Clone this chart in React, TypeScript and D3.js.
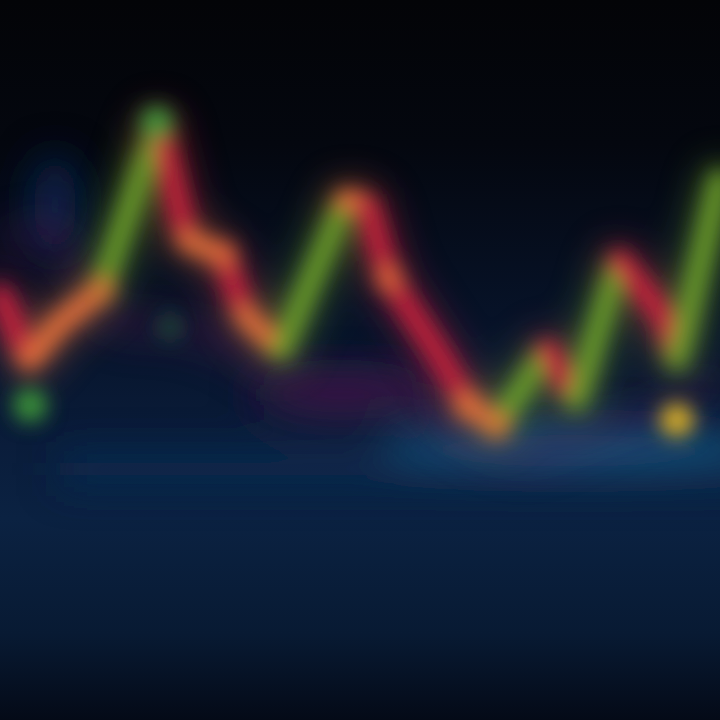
import React, { useEffect } from "react";
import * as d3 from "d3";

// Main price series (day, value)
const days = [0, 4, 8, 14, 22, 26, 31, 34, 39, 48, 51, 54, 61, 65, 69, 76, 80, 86, 92, 94, 100];
const prices = [48.6, 30.5, 40.3, 50, 95.8, 63.9, 59.7, 43.1, 33.3, 75, 73.6, 53.3, 31.9, 18.1, 12.5, 33.3, 19.4, 58.3, 43.1, 30.6, 80.6];

// Faint background series
const shadowDays = [0, 7, 15, 24, 32, 40, 48, 55, 61, 72, 83, 94, 100];
const shadowValues = [62, 66, 42, 40, 35, 25, 22, 24, 14, 5, 11, 19, 25];

// Highlighted markers
const markerDays = [4.2, 21.8, 23.6, 94];
const markerValues = [18, 96.4, 39.7, 13.9];
const markerKinds = ["low", "high", "dim", "signal"];

const W = 720;
const H = 720;

const x = d3.scaleLinear().domain([0, 100]).range([0, W]);
const y = d3.scaleLinear().domain([0, 100]).range([470, 110]);

const GREEN = "#6c9e2c";
const RED = "#c8233c";
const ORANGE = "#e2703a";

function segColor(x0: number, y0: number, x1: number, y1: number) {
  const slope = (y1 - y0) / Math.max(1, x1 - x0);
  if (slope < -1.45) return GREEN;
  if (slope > 1.2) return RED;
  return ORANGE;
}

const markerColor: Record<string, string> = {
  low: "#3f9a3a",
  high: "#3f9a3a",
  dim: "#1f6a3a",
  signal: "#e2b526",
};

export default function App() {
  useEffect(() => {
    document.body.style.margin = "0";
    document.body.style.background = "#050810";
  }, []);

  const pts = days.map((d, i) => [x(d), y(prices[i])] as [number, number]);
  const segs = pts.slice(0, -1).map((p, i) => ({ p0: p, p1: pts[i + 1] }));
  const line = d3.line().curve(d3.curveLinear);
  const shadowLine = d3
    .line<number>()
    .x((_, i) => x(shadowDays[i]))
    .y((v) => y(v))
    .curve(d3.curveCatmullRom);
  const knees = pts.filter((_, i) => [3, 6, 11, 13, 14].includes(i));

  return (
    <svg width={W} height={H} style={{ position: "absolute", left: 0, top: 0, display: "block" }}>
      <defs>
        <linearGradient id="bg" x1="0" y1="0" x2="0" y2="1">
          <stop offset="0" stopColor="#030407" />
          <stop offset="0.2" stopColor="#04070f" />
          <stop offset="0.45" stopColor="#071329" />
          <stop offset="0.62" stopColor="#0a1d3b" />
          <stop offset="0.72" stopColor="#0b2242" />
          <stop offset="0.88" stopColor="#081a33" />
          <stop offset="1" stopColor="#040a17" />
        </linearGradient>
        <filter id="blurL" x="-20%" y="-20%" width="140%" height="140%">
          <feGaussianBlur stdDeviation="10" />
        </filter>
        <filter id="blurXL" x="-30%" y="-30%" width="160%" height="160%">
          <feGaussianBlur stdDeviation="20" />
        </filter>
      </defs>
      <rect x={0} y={0} width={W} height={H} fill="url(#bg)" />
      {/* horizon glow */}
      <g filter="url(#blurXL)">
        <rect x={60} y={455} width={W} height={28} fill="#0f3158" opacity={0.8} />
        <ellipse cx={570} cy={445} rx={190} ry={22} fill="#1d5a86" opacity={0.8} />
        <ellipse cx={55} cy={205} rx={22} ry={50} fill="#0e2a58" opacity={0.9} />
        <ellipse cx={340} cy={395} rx={90} ry={22} fill="#3a1545" opacity={0.8} />
      </g>
      {/* faint background series */}
      <path
        d={shadowLine(shadowValues) || ""}
        fill="none"
        stroke="#5a1f55"
        strokeWidth={24}
        opacity={0.45}
        filter="url(#blurXL)"
      />
      {/* main series glow */}
      <g filter="url(#blurXL)" opacity={0.6}>
        {segs.map((s, i) => (
          <path
            key={i}
            d={line([s.p0, s.p1]) || ""}
            stroke={segColor(s.p0[0], s.p0[1], s.p1[0], s.p1[1])}
            strokeWidth={30}
            strokeLinecap="round"
            fill="none"
          />
        ))}
      </g>
      {/* main series */}
      <g filter="url(#blurL)">
        {segs.map((s, i) => (
          <path
            key={i}
            d={line([s.p0, s.p1]) || ""}
            stroke={segColor(s.p0[0], s.p0[1], s.p1[0], s.p1[1])}
            strokeWidth={20}
            strokeLinecap="round"
            fill="none"
          />
        ))}
        {knees.map((p, i) => (
          <circle key={i} cx={p[0]} cy={p[1]} r={14} fill={ORANGE} opacity={0.8} />
        ))}
        {markerDays.map((d, i) => (
          <circle
            key={i}
            cx={x(d)}
            cy={y(markerValues[i])}
            r={markerKinds[i] === "dim" ? 13 : 17}
            fill={markerColor[markerKinds[i]]}
            opacity={markerKinds[i] === "dim" ? 0.55 : 0.95}
          />
        ))}
      </g>
    </svg>
  );
}
